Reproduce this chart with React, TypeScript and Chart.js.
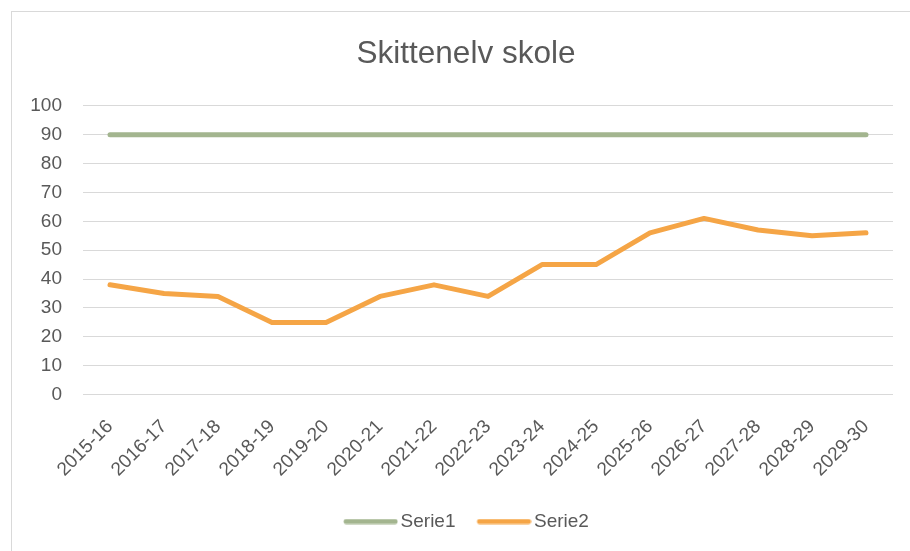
import React, { useEffect, useRef } from "react";
import { Chart, registerables } from "chart.js";

Chart.register(...registerables);

const categories = [
  "2015-16", "2016-17", "2017-18", "2018-19", "2019-20", "2020-21", "2021-22", "2022-23",
  "2023-24", "2024-25", "2025-26", "2026-27", "2027-28", "2028-29", "2029-30",
];
const serie1 = [90, 90, 90, 90, 90, 90, 90, 90, 90, 90, 90, 90, 90, 90, 90];
const serie2 = [38, 35, 34, 25, 25, 34, 38, 34, 45, 45, 56, 61, 57, 55, 56];
const titleText = "Skittenelv skole";

const FONT = "'Liberation Sans', Arial, sans-serif";
const TEXT = "#595959";
const GREEN = "#A3B58F";
const ORANGE = "#F5A546";

function legendLine(color: string): HTMLCanvasElement {
  const c = document.createElement("canvas");
  c.width = 62;
  c.height = 6;
  const g = c.getContext("2d");
  if (g) {
    g.strokeStyle = color;
    g.lineWidth = 5;
    g.lineCap = "round";
    g.beginPath();
    g.moveTo(10, 3);
    g.lineTo(59, 3);
    g.stroke();
  }
  return c;
}

export default function App() {
  const ref = useRef<HTMLCanvasElement | null>(null);
  useEffect(() => {
    if (!ref.current) return;
    const chart = new Chart(ref.current, {
      type: "line",
      data: {
        labels: categories,
        datasets: [
          {
            label: "Serie1",
            data: serie1,
            borderColor: GREEN,
            backgroundColor: GREEN,
            borderWidth: 5,
            borderCapStyle: "round",
            borderJoinStyle: "round",
            pointRadius: 0,
            pointStyle: legendLine(GREEN) as any,
            tension: 0,
          },
          {
            label: "Serie2",
            data: serie2,
            borderColor: ORANGE,
            backgroundColor: ORANGE,
            borderWidth: 5,
            borderCapStyle: "round",
            borderJoinStyle: "round",
            pointRadius: 0,
            pointStyle: legendLine(ORANGE) as any,
            tension: 0,
          },
        ],
      },
      options: {
        animation: false,
        responsive: false,
        maintainAspectRatio: false,
        layout: { padding: { top: 13, left: 0, right: 0, bottom: 31 } },
        plugins: {
          title: {
            display: true,
            text: titleText,
            color: TEXT,
            font: { family: FONT, size: 31.5, weight: "normal" },
            padding: { top: 10, bottom: 33 },
          },
          legend: {
            position: "bottom",
            labels: {
              usePointStyle: true,
              pointStyleWidth: 48,
              boxHeight: 6,
              color: TEXT,
              font: { family: FONT, size: 19 },
              padding: 21,
            },
          },
          tooltip: { enabled: false },
        },
        scales: {
          x: {
            offset: true,
            grid: { display: false },
            border: { display: false },
            afterFit: (scale: any) => {
              scale.height -= 3;
            },
            ticks: {
              color: TEXT,
              font: { family: FONT, size: 19 },
              maxRotation: 45,
              minRotation: 45,
              autoSkip: false,
              padding: 13,
            },
          },
          y: {
            min: 0,
            max: 100,
            grid: { color: "#D9D9D9", lineWidth: 1, drawTicks: false },
            border: { display: false },
            afterFit: (scale: any) => {
              scale.width = 71;
            },
            ticks: {
              stepSize: 10,
              color: TEXT,
              font: { family: FONT, size: 19 },
              padding: 21,
            },
          },
          yRight: {
            position: "right",
            min: 0,
            max: 100,
            grid: { display: false },
            border: { display: false },
            ticks: { display: false },
            afterFit: (scale: any) => {
              scale.width = 27;
            },
          },
        },
      },
    });
    return () => chart.destroy();
  }, []);

  return (
    <div style={{ position: "fixed", left: 0, top: 0, width: 910, height: 551, overflow: "hidden", background: "#fff" }}>
      <div
        style={{
          position: "absolute",
          left: 11,
          top: 11,
          width: 908,
          height: 560,
          border: "1px solid #D9D9D9",
          background: "#fff",
        }}
      >
        <canvas ref={ref} width={908} height={560} style={{ display: "block", width: 908, height: 560 }} />
      </div>
    </div>
  );
}
